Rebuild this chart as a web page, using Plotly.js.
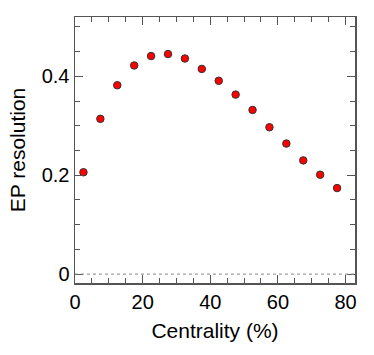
<!DOCTYPE html>
<html>
<head>
<meta charset="utf-8">
<script src="https://cdn.plot.ly/plotly-3.0.1.min.js"></script>
<style>html,body{margin:0;padding:0;background:#fff}#chart{width:374px;height:355px}</style>
</head>
<body>
<div id="chart"></div>
<script>
const centrality = [2.5, 7.5, 12.5, 17.5, 22.5, 27.5, 32.5, 37.5, 42.5, 47.5, 52.5, 57.5, 62.5, 67.5, 72.5, 77.5];
const epResolution = [0.206, 0.314, 0.382, 0.422, 0.441, 0.445, 0.436, 0.415, 0.391, 0.363, 0.332, 0.297, 0.264, 0.230, 0.201, 0.174];
const xTickVals = [0, 20, 40, 60, 80];
const yTickVals = [0, 0.2, 0.4];
const yTickText = ['0', '0.2', '0.4'];

const font = 'Liberation Sans, Arial, Helvetica, sans-serif';
const axisColor = '#555';

const trace = {
  x: centrality,
  y: epResolution,
  type: 'scatter',
  mode: 'markers',
  marker: {color: '#ff0000', size: 7.5, line: {color: '#333', width: 1}},
  hoverinfo: 'skip'
};

const layout = {
  width: 374, height: 355,
  margin: {l: 74.5, r: 19, t: 17, b: 72},
  paper_bgcolor: '#fff', plot_bgcolor: '#fff',
  showlegend: false,
  font: {family: font, size: 20, color: '#000'},
  xaxis: {
    range: [0, 82.8],
    tickvals: xTickVals,
    ticks: 'inside', ticklen: 8, tickwidth: 1, tickcolor: axisColor,
    minor: {dtick: 5, tick0: 0, ticks: 'inside', ticklen: 5, tickcolor: axisColor, tickwidth: 1},
    showline: true, linecolor: axisColor, linewidth: 1.5, mirror: 'ticks',
    showgrid: false, zeroline: false,
    tickfont: {family: font, size: 20},
    title: {text: 'Centrality (%)', font: {family: font, size: 21}, standoff: 12}
  },
  yaxis: {
    range: [-0.018, 0.52],
    tickvals: yTickVals, ticktext: yTickText,
    ticks: 'inside', ticklen: 8, tickwidth: 1, tickcolor: axisColor,
    minor: {dtick: 0.05, tick0: 0, ticks: 'inside', ticklen: 5, tickcolor: axisColor, tickwidth: 1},
    showline: true, linecolor: axisColor, linewidth: 1.5, mirror: 'ticks',
    showgrid: false, zeroline: false,
    tickfont: {family: font, size: 20},
    title: {text: 'EP resolution', font: {family: font, size: 21}, standoff: 10}
  },
  shapes: [{
    type: 'line', xref: 'paper', yref: 'y', x0: 0, x1: 1, y0: 0, y1: 0,
    line: {color: '#888', width: 1, dash: 'dot'}
  }]
};

Plotly.newPlot('chart', [trace], layout, {staticPlot: true, displayModeBar: false});
</script>
</body>
</html>
